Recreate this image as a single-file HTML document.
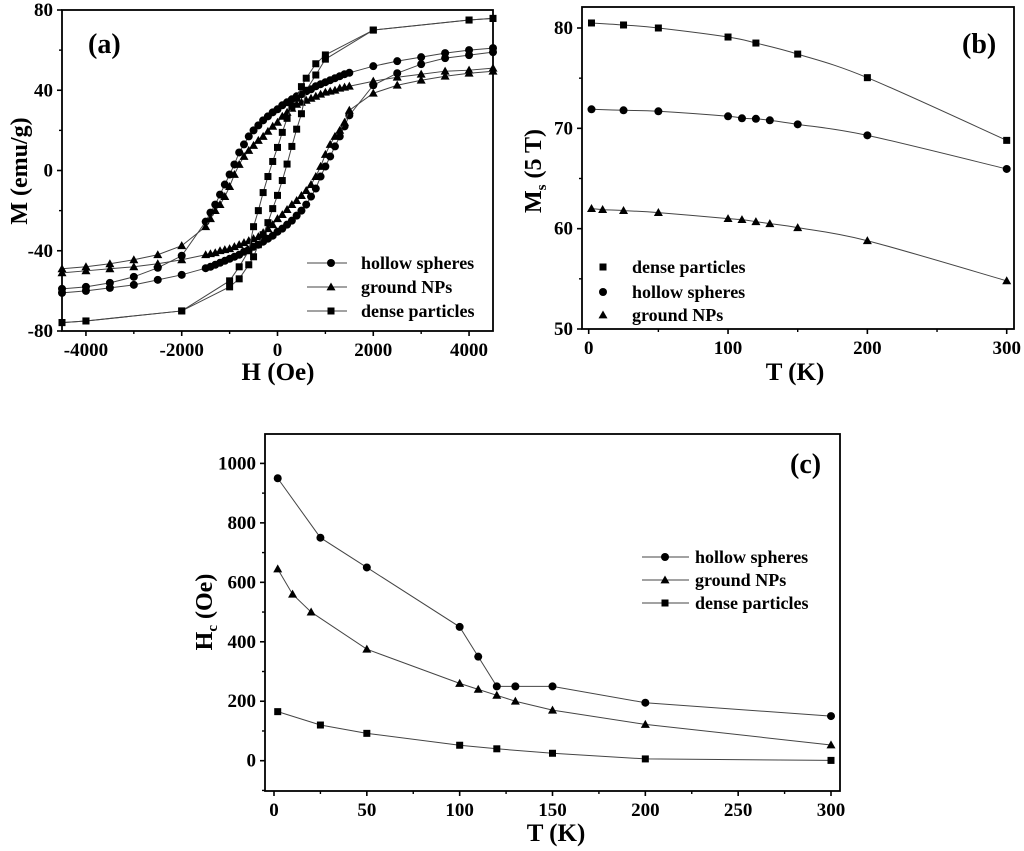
<!DOCTYPE html>
<html><head><meta charset="utf-8">
<style>
html,body{margin:0;padding:0;background:#fff;}
svg{display:block;font-family:"Liberation Serif",serif;font-weight:bold;}
</style></head>
<body>
<svg id="fig" width="1024" height="851" viewBox="0 0 1024 851" xmlns="http://www.w3.org/2000/svg"></svg>
<script>
// ---------- Panel (a) data ----------
const aHdesc=[4500,4000,3500,3000,2500,2000,1500,1400,1300,1200,1100,1000,900,800,700,600,500,400,300,200,100,0,-100,-200,-300,-400,-500,-600,-700,-800,-900,-1000,-1100,-1200,-1300,-1400,-1500,-2000,-2500,-3000,-3500,-4000,-4500];
const aHasc=[-4500,-4000,-3500,-3000,-2500,-2000,-1500,-1400,-1300,-1200,-1100,-1000,-900,-800,-700,-600,-500,-400,-300,-200,-100,0,100,200,300,400,500,600,700,800,900,1000,1100,1200,1300,1400,1500,2000,2500,3000,3500,4000,4500];
const hollowDesc=[61,60,58.5,56.5,54.5,52,48.7,48,47,46,45,44,43,42,40.5,39.5,38,37,35.5,34,32.5,30.5,29,27,25,22.5,20,17,13,9,3,-2,-7,-12,-17,-21,-25.5,-42.5,-48.5,-53,-56,-58,-59];
const hollowAsc=[-61,-60,-58.5,-57,-54.5,-52,-48.7,-48,-47,-46,-45,-44,-43,-42,-40.5,-39.5,-38,-37,-35.5,-34,-32.5,-30.5,-29,-27,-25,-22.5,-20,-17,-13,-9,-3,2,7,12,17,22,27.5,42.5,48.5,53,56,57.5,59];
const groundDesc=[51,50,49.5,48,46.5,44.5,42,41.5,41,40,39.5,39,38,37,36,35,34,33,31,29,27,24,22,19.5,17,15,12.5,10,7,3,-2,-8,-13,-17,-20,-24,-28,-37.5,-42,-44.5,-46.5,-48,-49];
const groundAsc=[-51,-50,-49,-48,-46.5,-44.5,-42,-41.5,-41,-40,-39.5,-39,-38,-37,-36,-35,-34,-33,-31,-29,-27,-24,-22,-19.5,-17,-15,-12.5,-10,-7,-3,2,8,13,17,20,24,30,38.5,42.5,45,47,48.5,49.5];
const denseHdesc=[4500,4000,2000,1000,800,600,500,400,300,200,100,0,-100,-200,-300,-400,-500,-600,-800,-1000,-2000,-4000,-4500];
const denseDesc=[75.8,75,70,57.6,53.2,46,41.8,36,32,26,19,11.5,4.5,-3,-11,-20,-28,-40,-48,-55,-70,-75,-75.8];
const denseHasc=[-4500,-4000,-2000,-1000,-800,-600,-500,-400,-300,-200,-100,0,100,200,300,400,500,600,800,1000,2000,4000,4500];
const denseAsc=[-75.8,-75,-70,-58,-54,-47,-43,-37,-32,-26,-19,-12.4,-5,3.2,12,20.6,28.3,40,47.6,55.5,70,75,75.8];
const aXticks=[-4000,-2000,0,2000,4000];
const aYticks=[-80,-40,0,40,80];

// ---------- Panel (b) data ----------
const bTdense=[2,25,50,100,120,150,200,300];
const bMdense=[80.5,80.3,80,79.1,78.5,77.4,75.05,68.8];
const bThollow=[2,25,50,100,110,120,130,150,200,300];
const bMhollow=[71.9,71.8,71.7,71.2,71.0,70.95,70.8,70.4,69.3,65.95];
const bTground=[2,10,25,50,100,110,120,130,150,200,300];
const bMground=[62.0,61.9,61.8,61.6,61.0,60.9,60.7,60.5,60.1,58.8,54.8];
const bXticks=[0,100,200,300];
const bYticks=[50,60,70,80];

// ---------- Panel (c) data ----------
const cThollow=[2,25,50,100,110,120,130,150,200,300];
const cHhollow=[950,750,650,450,350,250,250,250,195,150];
const cTground=[2,10,20,50,100,110,120,130,150,200,300];
const cHground=[645,560,500,375,260,240,220,200,170,122,53];
const cTdense=[2,25,50,100,120,150,200,300];
const cHdense=[165,120,92,52,40,25,6,1];
const cXticks=[0,50,100,150,200,250,300];
const cYticks=[0,200,400,600,800,1000];

const NS="http://www.w3.org/2000/svg";
const svg=document.getElementById('fig');
function mk(tag,attrs,parent){const e=document.createElementNS(NS,tag);for(const k in attrs)e.setAttribute(k,attrs[k]);(parent||svg).appendChild(e);return e;}
function scale(d0,d1,r0,r1){return v=>r0+(v-d0)/(d1-d0)*(r1-r0);}

function marker(g,type,x,y,s){
  let e;
  if(type==='circle'){e=mk('circle',{cx:x,cy:y,r:s/2,fill:'#000'},g);}
  else if(type==='square'){e=mk('rect',{x:x-s/2+0.5,y:y-s/2+0.5,width:s-1,height:s-1,fill:'#000'},g);}
  else {const h=s*0.95;e=mk('polygon',{points:`${x},${y-h*0.6} ${x-s/2-0.5},${y+h*0.45} ${x+s/2+0.5},${y+h*0.45}`,fill:'#000'},g);}
  return e;
}

function axes(P){
  const g=mk('g',{});
  
  
  const frame=mk('rect',{x:P.L,y:P.T,width:P.R-P.L,height:P.B-P.T,fill:'none',stroke:'#000','stroke-width':1.8},g);
  
  
  P.xt.forEach(v=>{const x=P.sx(v);mk('line',{x1:x,y1:P.B,x2:x,y2:P.B+5,stroke:'#000','stroke-width':1.6},g);
    const t=mk('text',{x:x,y:P.B+25,'text-anchor':'middle','font-size':19},g);t.textContent=v;
    });
  P.xm.forEach(v=>{const x=P.sx(v);mk('line',{x1:x,y1:P.B,x2:x,y2:P.B+3,stroke:'#000','stroke-width':1.4},g);});
  P.yt.forEach(v=>{const y=P.sy(v);mk('line',{x1:P.L-5,y1:y,x2:P.L,y2:y,stroke:'#000','stroke-width':1.6},g);
    const t=mk('text',{x:P.L-9,y:y+6,'text-anchor':'end','font-size':19},g);t.textContent=v;
    });
  P.ym.forEach(v=>{const y=P.sy(v);mk('line',{x1:P.L-3,y1:y,x2:P.L,y2:y,stroke:'#000','stroke-width':1.4},g);});
}
function series(P,xs,ys,type,ms,name,smooth){
  const g=mk('g',{});
  
  
  const pts=xs.map((x,i)=>[P.sx(x),P.sy(ys[i])]);
  let d;
  if(smooth){d='M'+pts[0][0]+','+pts[0][1];
    for(let i=0;i<pts.length-1;i++){const p0=pts[Math.max(0,i-1)],p1=pts[i],p2=pts[i+1],p3=pts[Math.min(pts.length-1,i+2)];
      const c1=[p1[0]+(p2[0]-p0[0])/6,p1[1]+(p2[1]-p0[1])/6],c2=[p2[0]-(p3[0]-p1[0])/6,p2[1]-(p3[1]-p1[1])/6];
      d+=` C${c1[0]},${c1[1]} ${c2[0]},${c2[1]} ${p2[0]},${p2[1]}`;}
  } else d='M'+pts.map(p=>p.join(',')).join(' L');
  const path=mk('path',{d:d,fill:'none',stroke:'#444','stroke-width':1},g);
  
  
  pts.forEach(p=>{const m=marker(g,type,p[0],p[1],ms);
    
    });
}
function txt(x,y,s,size,anchor,name,rot){const t=mk('text',{x:x,y:y,'font-size':size,'text-anchor':anchor||'start'});
  if(rot)t.setAttribute('transform',`rotate(-90 ${x} ${y})`);t.textContent=s;
  return t;}
function legend(entries,x0,x1,xm,xt,ys,size,ms,name,line){
  entries.forEach((e,i)=>{const g=mk('g',{});
    
    
    if(line)mk('line',{x1:x0,y1:ys[i],x2:x1,y2:ys[i],stroke:'#444','stroke-width':1},g);
    marker(g,e[1],xm,ys[i],ms);
    const t=mk('text',{x:xt,y:ys[i]+6,'font-size':size},g);t.textContent=e[0];});
}

// ===== Panel (a) =====
const A={name:'panel-a',L:62,R:493,T:10,B:331};
A.sx=scale(-4500,4500,A.L,A.R);A.sy=scale(-80,80,A.B,A.T);
A.xt=aXticks;A.xm=[-3000,-1000,1000,3000];A.yt=aYticks;A.ym=[-60,-20,20,60];
axes(A);
series(A,aHdesc,hollowDesc,'circle',8,'hollow-spheres-descending');
series(A,aHasc,hollowAsc,'circle',8,'hollow-spheres-ascending');
series(A,aHdesc,groundDesc,'triangle',8,'ground-nps-descending');
series(A,aHasc,groundAsc,'triangle',8,'ground-nps-ascending');
series(A,denseHdesc,denseDesc,'square',8,'dense-particles-descending');
series(A,denseHasc,denseAsc,'square',8,'dense-particles-ascending');
legend([['hollow spheres','circle'],['ground NPs','triangle'],['dense particles','square']],307,347,331,361,[263,287,311],18,8,'panel-a-legend',true);
txt(88,53,'(a)',28,'start','panel-a-label');
txt(27,171,'M (emu/g)',24,'middle','panel-a-y-axis-title',true);
txt(278,380,'H (Oe)',25,'middle','panel-a-x-axis-title');

// ===== Panel (b) =====
const B={name:'panel-b',L:582,R:1014,T:7,B:329};
B.sx=scale(0,300,588.7,1006.7);B.sy=scale(50,80,B.B,28);
B.xt=bXticks;B.xm=[50,150,250];B.yt=bYticks;B.ym=[55,65,75];
axes(B);
series(B,bTdense,bMdense,'square',8,'panel-b-dense-particles',true);
series(B,bThollow,bMhollow,'circle',8,'panel-b-hollow-spheres',true);
series(B,bTground,bMground,'triangle',8,'panel-b-ground-nps',true);
legend([['dense particles','square'],['hollow spheres','circle'],['ground NPs','triangle']],0,0,603,632,[267,292,315],18,8,'panel-b-legend',false);
txt(962,53,'(b)',28,'start','panel-b-label');
(function(){const t=mk('text',{x:541,y:171,'font-size':24,'text-anchor':'middle',transform:'rotate(-90 541 171)'});
  
  t.innerHTML='M<tspan font-size="15" dy="5">s</tspan><tspan dy="-5"> (5 T)</tspan>';})();
txt(795,380,'T (K)',25,'middle','panel-b-x-axis-title');

// ===== Panel (c) =====
const C={name:'panel-c',L:265,R:840,T:434,B:791};
C.sx=scale(0,300,274,831);C.sy=scale(0,1000,760.7,463.4);
C.xt=cXticks;C.xm=[25,75,125,175,225,275];C.yt=cYticks;C.ym=[-100,100,300,500,700,900,1100].filter(v=>v<1098);
axes(C);
series(C,cThollow,cHhollow,'circle',8,'panel-c-hollow-spheres');
series(C,cTground,cHground,'triangle',8,'panel-c-ground-nps');
series(C,cTdense,cHdense,'square',8,'panel-c-dense-particles');
legend([['hollow spheres','circle'],['ground NPs','triangle'],['dense particles','square']],642,689,665,695,[557,580,603],18,8,'panel-c-legend',true);
txt(790,473,'(c)',28,'start','panel-c-label');
(function(){const t=mk('text',{x:212,y:612,'font-size':24,'text-anchor':'middle',transform:'rotate(-90 212 612)'});
  
  t.innerHTML='H<tspan font-size="15" dy="5">c</tspan><tspan dy="-5"> (Oe)</tspan>';})();
txt(556,841,'T (K)',25,'middle','panel-c-x-axis-title');
</script>
</body></html>
